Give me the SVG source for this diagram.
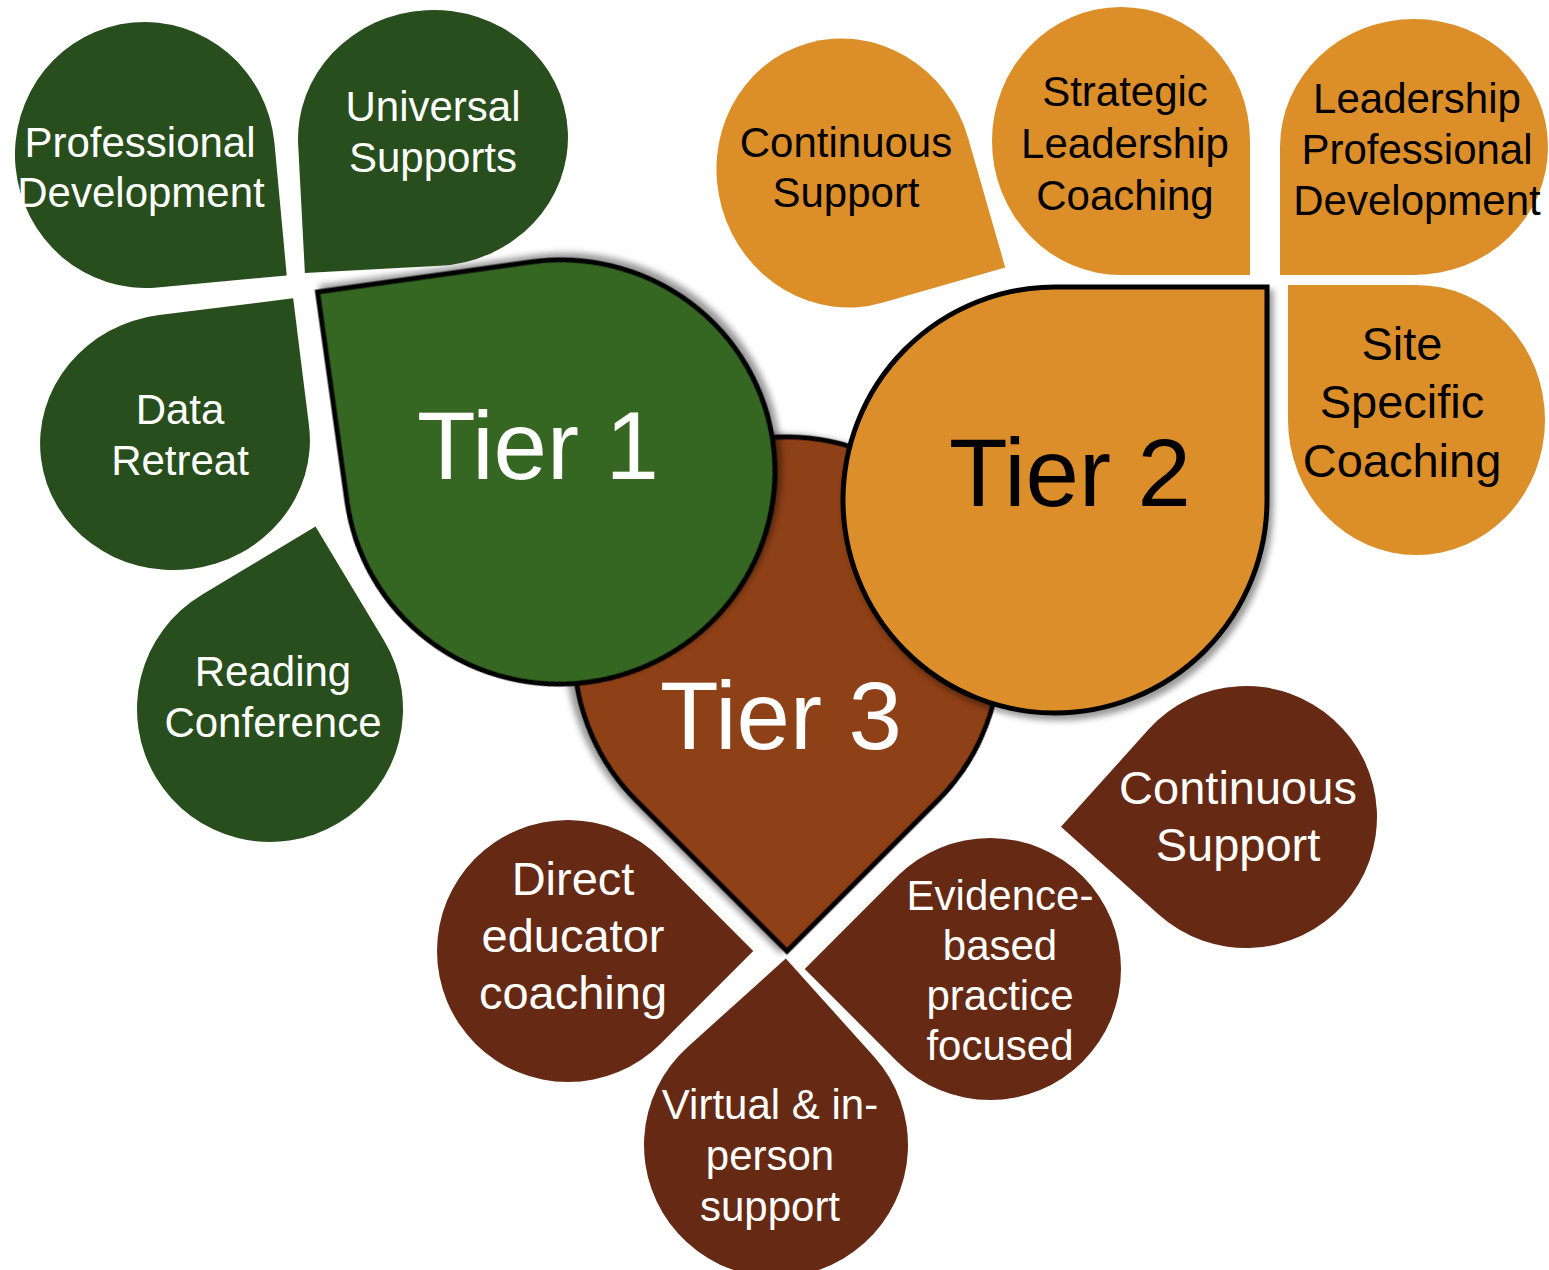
<svg xmlns="http://www.w3.org/2000/svg" width="1549" height="1270" viewBox="0 0 1549 1270">
  <defs>
    <filter id="shadow" x="-20%" y="-20%" width="140%" height="140%">
      <feDropShadow dx="4" dy="5" stdDeviation="3" flood-color="#000" flood-opacity="0.4"/>
    </filter>
  </defs>
  <style>
    .g-sat { fill: #274E1C; }
    .o-sat { fill: #DC8E29; }
    .b-sat { fill: #662A14; }
    .tier { stroke: #000; stroke-width: 5; stroke-linejoin: miter; filter: url(#shadow); }
    .t1 { fill: #346622; }
    .t2 { fill: #DC8E29; }
    .t3 { fill: #8E3F17; }
    text { font-family: "Liberation Sans", Arial, sans-serif; text-anchor: middle; }
    .w { fill: #FFFFFF; }
    .k { fill: #000000; }
    .s42 { font-size: 42px; }
    .s47 { font-size: 47px; }
    .s96 { font-size: 96px; }
  </style>
  <rect width="1549" height="1270" fill="#FFFFFF"/>

  <!-- Tier shapes -->
  <g id="tier3">
    <path class="tier t3" transform="translate(787,650) rotate(135)" d="M -213,0 A 213,213 0 0 1 0,-213 L 213,-213 L 213,0 A 213,213 0 0 1 0,213 A 213,213 0 0 1 -213,0 Z"/>
    <text class="w s96" x="781" y="749">Tier 3</text>
  </g>
  <g id="tier1">
    <path class="tier t1" transform="translate(560,472) rotate(-98)" d="M -212,0 A 212,215 0 0 1 0,-215 L 212,-215 L 212,0 A 212,215 0 0 1 0,215 A 212,215 0 0 1 -212,0 Z"/>
    <text class="w s96" x="538" y="479">Tier 1</text>
  </g>
  <g id="tier2">
    <path class="tier t2" transform="translate(1055,500)" d="M -212,0 A 212,213 0 0 1 0,-213 L 212,-213 L 212,0 A 212,213 0 0 1 0,213 A 212,213 0 0 1 -212,0 Z"/>
    <text class="k s96" x="1070" y="506">Tier 2</text>
  </g>

  <!-- Tier 1 satellites -->
  <g id="professional-development">
    <path class="g-sat" transform="translate(145,155) rotate(84.7)" d="M -133,0 A 133,130 0 0 1 0,-130 L 133,-130 L 133,0 A 133,130 0 0 1 0,130 A 133,130 0 0 1 -133,0 Z"/>
    <text class="w s42" x="140" y="157">Professional</text>
    <text class="w s42" x="141" y="207">Development</text>
  </g>
  <g id="universal-supports">
    <path class="g-sat" transform="translate(433,138) rotate(177)" d="M -135,0 A 135,128 0 0 1 0,-128 L 135,-128 L 135,0 A 135,128 0 0 1 0,128 A 135,128 0 0 1 -135,0 Z"/>
    <text class="w s42" x="433" y="121">Universal</text>
    <text class="w s42" x="433" y="172">Supports</text>
  </g>
  <g id="data-retreat">
    <path class="g-sat" transform="translate(175,442) rotate(-7.1)" d="M -135,0 A 135,128 0 0 1 0,-128 L 135,-128 L 135,0 A 135,128 0 0 1 0,128 A 135,128 0 0 1 -135,0 Z"/>
    <text class="w s42" x="180" y="424">Data</text>
    <text class="w s42" x="180" y="475">Retreat</text>
  </g>
  <g id="reading-conference">
    <path class="g-sat" transform="translate(270,709) rotate(-31)" d="M -133,0 A 133,133 0 0 1 0,-133 L 133,-133 L 133,0 A 133,133 0 0 1 0,133 A 133,133 0 0 1 -133,0 Z"/>
    <text class="w s42" x="273" y="686">Reading</text>
    <text class="w s42" x="273" y="737">Conference</text>
  </g>

  <!-- Tier 2 satellites -->
  <g id="continuous-support-t2">
    <path class="o-sat" transform="translate(845,173) rotate(74)" d="M -135,0 A 135,128 0 0 1 0,-128 L 135,-128 L 135,0 A 135,128 0 0 1 0,128 A 135,128 0 0 1 -135,0 Z"/>
    <text class="k s42" x="846" y="157">Continuous</text>
    <text class="k s42" x="846" y="207">Support</text>
  </g>
  <g id="strategic-leadership-coaching">
    <path class="o-sat" transform="translate(1121,141) rotate(90)" d="M -134,0 A 134,129 0 0 1 0,-129 L 134,-129 L 134,0 A 134,129 0 0 1 0,129 A 134,129 0 0 1 -134,0 Z"/>
    <text class="k s42" x="1125" y="106">Strategic</text>
    <text class="k s42" x="1125" y="158">Leadership</text>
    <text class="k s42" x="1125" y="210">Coaching</text>
  </g>
  <g id="leadership-professional-development">
    <path class="o-sat" transform="translate(1414,147) rotate(180)" d="M -134,0 A 134,128 0 0 1 0,-128 L 134,-128 L 134,0 A 134,128 0 0 1 0,128 A 134,128 0 0 1 -134,0 Z"/>
    <text class="k s42" x="1417" y="113">Leadership</text>
    <text class="k s42" x="1417" y="164">Professional</text>
    <text class="k s42" x="1417" y="215">Development</text>
  </g>
  <g id="site-specific-coaching">
    <path class="o-sat" transform="translate(1416.5,420) rotate(-90)" d="M -135,0 A 135,128.5 0 0 1 0,-128.5 L 135,-128.5 L 135,0 A 135,128.5 0 0 1 0,128.5 A 135,128.5 0 0 1 -135,0 Z"/>
    <text class="k s47" x="1402" y="360">Site</text>
    <text class="k s47" x="1402" y="418">Specific</text>
    <text class="k s47" x="1402" y="477">Coaching</text>
  </g>

  <!-- Tier 3 satellites -->
  <g id="continuous-support-t3">
    <path class="b-sat" transform="translate(1246,817) rotate(-138)" d="M -131,0 A 131,131 0 0 1 0,-131 L 131,-131 L 131,0 A 131,131 0 0 1 0,131 A 131,131 0 0 1 -131,0 Z"/>
    <text class="w s47" x="1238" y="804">Continuous</text>
    <text class="w s47" x="1238" y="861">Support</text>
  </g>
  <g id="direct-educator-coaching">
    <path class="b-sat" transform="translate(568,951) rotate(45)" d="M -131,0 A 131,131 0 0 1 0,-131 L 131,-131 L 131,0 A 131,131 0 0 1 0,131 A 131,131 0 0 1 -131,0 Z"/>
    <text class="w s47" x="573" y="895">Direct</text>
    <text class="w s47" x="573" y="952">educator</text>
    <text class="w s47" x="573" y="1009">coaching</text>
  </g>
  <g id="virtual-in-person-support">
    <path class="b-sat" transform="translate(776,1145) rotate(-42)" d="M -132,0 A 132,132 0 0 1 0,-132 L 132,-132 L 132,0 A 132,132 0 0 1 0,132 A 132,132 0 0 1 -132,0 Z"/>
    <text class="w s42" x="770" y="1119">Virtual &amp; in-</text>
    <text class="w s42" x="770" y="1170">person</text>
    <text class="w s42" x="770" y="1221">support</text>
  </g>
  <g id="evidence-based-practice-focused">
    <path class="b-sat" transform="translate(990,969) rotate(-135)" d="M -131,0 A 131,131 0 0 1 0,-131 L 131,-131 L 131,0 A 131,131 0 0 1 0,131 A 131,131 0 0 1 -131,0 Z"/>
    <text class="w s42" x="1000" y="910">Evidence-</text>
    <text class="w s42" x="1000" y="960">based</text>
    <text class="w s42" x="1000" y="1010">practice</text>
    <text class="w s42" x="1000" y="1060">focused</text>
  </g>

  <g id="connectors"></g>
</svg>
